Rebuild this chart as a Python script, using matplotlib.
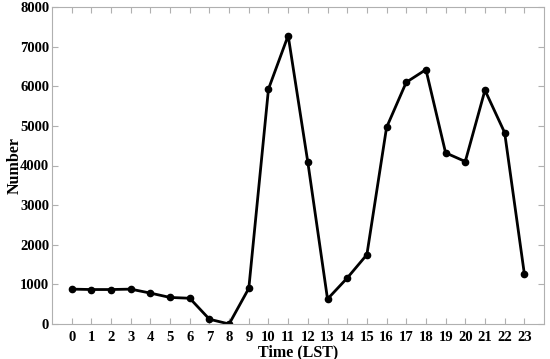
import numpy as np
import matplotlib
matplotlib.use('Agg')
import matplotlib.pyplot as plt

plt.rcParams['font.family'] = ['Liberation Serif', 'DejaVu Serif']
plt.rcParams['font.weight'] = 'bold'

hours = list(range(24))
counts = [880, 870, 870, 880, 780, 670, 650, 120, 0, 900, 5930, 7280,
          4080, 630, 1160, 1750, 4960, 6100, 6420, 4320, 4100, 5900, 4830, 1270]

fig = plt.figure(figsize=(5.5, 3.59), dpi=100)
ax = fig.add_axes([52/550, 1 - 324/359, (544-52)/550, (324-7)/359])
ax.plot(hours, counts, c='black', lw=2, marker='o', ms=4.5)

ax.set_xlim(-1, 24)
ax.set_ylim(0, 8000)
ax.set_xticks(hours)
ax.set_yticks(range(0, 8001, 1000))
ax.tick_params(direction='in', top=True, right=True, color='#b0b0b0',
               length=4, labelsize=10.5, pad=5)
ax.tick_params(axis='y', pad=2)
for lab in ax.get_xticklabels() + ax.get_yticklabels():
    lab.set_fontweight('bold')
for s in ax.spines.values():
    s.set_color('#b0b0b0')
ax.set_xlabel('Time (LST)', fontsize=11.5, fontweight='bold', labelpad=0)
ax.set_ylabel('Number', fontsize=11.5, fontweight='bold', labelpad=-2)

plt.savefig('out.png', dpi=100)
